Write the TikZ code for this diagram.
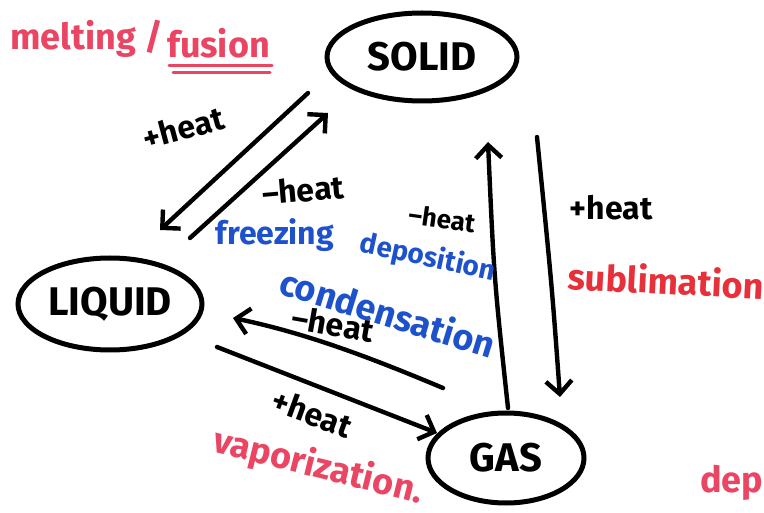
\documentclass[tikz,border=0pt]{standalone}
\usepackage{fontspec}
\setmainfont{Fira Sans}
\usetikzlibrary{shapes.geometric,arrows.meta,calc}
\definecolor{mred}{RGB}{234,70,100}
\definecolor{sred}{RGB}{232,48,58}
\definecolor{mblue}{RGB}{30,82,204}
\tikzset{
 state/.style={ellipse,draw,line width=5pt,inner sep=0pt,font=\fontsize{40}{44}\selectfont\bfseries},
 conn/.style={line width=4.4pt,line cap=round,line join=round,-{Straight Barb[length=13pt,width=26pt]}},
 heat/.style={font=\fontsize{32}{36}\selectfont\bfseries,inner sep=0pt},
 redtxt/.style={text=mred,font=\fontsize{36}{40}\selectfont\bfseries,inner sep=0pt},
 bluetxt/.style={text=mblue,font=\fontsize{32}{36}\selectfont\bfseries,inner sep=0pt}
}
\begin{document}
\begin{tikzpicture}[x=1pt,y=-1pt]
\useasboundingbox (0,0) rectangle (764,513);
\fill[white] (0,0) rectangle (764,513);
\clip (0,0) rectangle (764,513);
% states
\node[state,minimum width=190pt,minimum height=88pt] (solid) at (422,57) {SOLID};
\node[state,minimum width=184pt,minimum height=92pt] (liquid) at (110,304) {LIQUID};
\node[state,minimum width=156pt,minimum height=90pt] (gas) at (506,458) {GAS};
% connectors
\draw[conn] ($(solid)+(-114,36)$) -- ($(liquid)+(50,-74)$);
\draw[conn] ($(liquid)+(80,-66)$) -- ($(solid)+(-94,56)$);
\draw[conn] ($(gas)+(2,-50)$) .. controls ($(gas)+(-12,-180)$) .. ($(solid)+(66,85)$);
\draw[conn] ($(solid)+(115,80)$) .. controls ($(solid)+(130,230)$) .. ($(gas)+(54,-61)$);
\draw[conn] ($(gas)+(-63,-70)$) .. controls ($(gas)+(-130,-98)$) and ($(liquid)+(200,30)$) .. ($(liquid)+(123,14)$);
\draw[conn] ($(liquid)+(107,43)$) -- ($(gas)+(-69,-25)$);
% labels
\node[redtxt,anchor=base west] (melt) at (10,50) {melting /};
\node[redtxt,anchor=base west] (fusion) at (167,58) {fusion};
\draw[mred,line width=3pt,line cap=round] ($(fusion.base west)+(2,8)$) -- ($(fusion.base east)+(2,8)$);
\draw[mred,line width=3pt,line cap=round] ($(fusion.base west)+(6,15)$) -- ($(fusion.base east)+(0,15)$);
\node[heat,rotate=15] (h1) at (183,128) {+heat};
\node[heat,rotate=5] (h2) at (303,190) {–heat};
\node[bluetxt] (freez) at (275,235) {freezing};
\node[heat,font=\fontsize{26}{30}\selectfont\bfseries,rotate=-8] (h3) at (442,219) {–heat};
\node[bluetxt,font=\fontsize{28}{32}\selectfont\bfseries,rotate=-12] (depos) at (428,258) {deposition};
\node[bluetxt,font=\fontsize{36}{40}\selectfont\bfseries,rotate=-17] (cond) at (388,312) {condensation};
\node[heat,rotate=-10] (h4) at (333,324) {–heat};
\node[heat,rotate=-20] (h5) at (312,413) {+heat};
\node[redtxt,rotate=-14] (vap) at (318,467) {vaporization.};
\node[heat] (h6) at (611,208) {+heat};
\node[redtxt,text=sred,rotate=-3] (subl) at (666,280) {sublimation};
\node[redtxt,anchor=base west] (depo) at (700,492) {depo};
\end{tikzpicture}
\end{document}
